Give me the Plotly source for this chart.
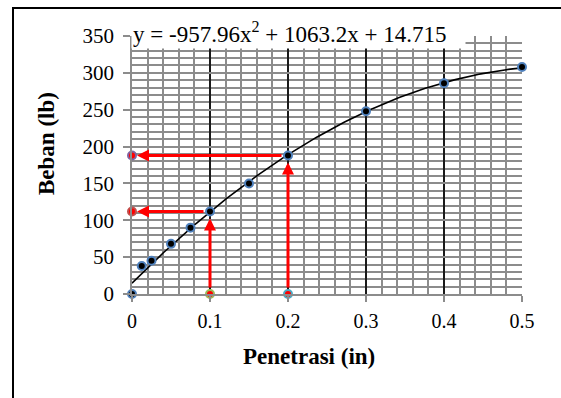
import numpy as np
import plotly.graph_objects as go

# ---- data ----
penetrasi = [0, 0.0125, 0.025, 0.05, 0.075, 0.1, 0.15, 0.2, 0.3, 0.4, 0.5]
beban = [0, 38, 45, 68, 90, 112, 150, 188, 248, 286, 308]

# trendline coefficients as shown on the chart (a, b, c for ax^2 + bx + c)
trend_coef = [-957.96, 1063.2, 14.715]
trend_label = "y = -957.96x<sup>2</sup> + 1063.2x + 14.715"

# read-off values (penetration -> load)
read_x = [0.1, 0.2]
read_y = [112, 188]

x_ticks = [0, 0.1, 0.2, 0.3, 0.4, 0.5]
y_ticks = [0, 50, 100, 150, 200, 250, 300, 350]

FONT = "Liberation Serif, Times New Roman, serif"
W, H = 561, 398
L, R, T, B = 132, 39, 36, 104
pw, ph = W - L - R, H - T - B


def px(x):
    return (x - L) / pw


def py(y):
    return (H - B - y) / ph


fig = go.Figure()

# trendline
tx = np.linspace(min(penetrasi), max(penetrasi), 200)
ty = np.polyval(trend_coef, tx)
fig.add_trace(go.Scatter(x=tx, y=ty, mode="lines",
                         line=dict(color="black", width=1.6),
                         hoverinfo="skip", cliponaxis=False))

# main data
fig.add_trace(go.Scatter(x=penetrasi, y=beban, mode="markers",
                         marker=dict(size=8, color="black",
                                     line=dict(color="#4F81BD", width=2)),
                         cliponaxis=False))

# read-off markers
fig.add_trace(go.Scatter(x=[0, 0], y=read_y, mode="markers",
                         marker=dict(size=8, color="red",
                                     line=dict(color=["#C0504D", "#8064A2"], width=2)),
                         cliponaxis=False))
fig.add_trace(go.Scatter(x=read_x, y=[0, 0], mode="markers",
                         marker=dict(size=8, color="red",
                                     line=dict(color=["#9BBB59", "#4BACC6"], width=2)),
                         cliponaxis=False))

annotations = []
for xr, yr in zip(read_x, read_y):
    # vertical arrow up to the curve
    annotations.append(dict(x=xr, y=yr, ax=xr, ay=0, xref="x", yref="y",
                            axref="x", ayref="y", text="", showarrow=True,
                            arrowhead=2, arrowwidth=3, arrowsize=0.8,
                            arrowcolor="red", standoff=7, startstandoff=5))
    # horizontal arrow to the load axis
    annotations.append(dict(x=0, y=yr, ax=xr, ay=yr, xref="x", yref="y",
                            axref="x", ayref="y", text="", showarrow=True,
                            arrowhead=2, arrowwidth=3, arrowsize=0.8,
                            arrowcolor="red", standoff=5, startstandoff=5))

# equation label
annotations.append(dict(x=px(131), y=py(33), xref="paper", yref="paper",
                        xanchor="left", yanchor="middle", showarrow=False,
                        text=trend_label + "&nbsp;&nbsp;&nbsp;",
                        font=dict(family=FONT, size=23, color="black"),
                        bgcolor="white", borderpad=1))
# axis titles
annotations.append(dict(x=px(309), y=py(356), xref="paper", yref="paper",
                        xanchor="center", yanchor="middle", showarrow=False,
                        text="<b>Penetrasi (in)</b>",
                        font=dict(family=FONT, size=23, color="black")))
annotations.append(dict(x=px(46), y=py(144), xref="paper", yref="paper",
                        xanchor="center", yanchor="middle", showarrow=False,
                        textangle=-90, text="<b>Beban (lb)</b>",
                        font=dict(family=FONT, size=23, color="black")))

frame = [
    dict(type="rect", xref="paper", yref="paper",
         x0=px(12), x1=px(561), y0=py(9), y1=py(7),
         fillcolor="black", line=dict(width=0), layer="above"),
    dict(type="rect", xref="paper", yref="paper",
         x0=px(12), x1=px(14), y0=py(398), y1=py(7),
         fillcolor="black", line=dict(width=0), layer="above"),
]

fig.update_layout(
    width=W, height=H,
    margin=dict(l=L, r=R, t=T, b=B, pad=0),
    paper_bgcolor="white", plot_bgcolor="white",
    showlegend=False,
    annotations=annotations,
    shapes=frame,
    xaxis=dict(range=[0, 0.5], tickvals=x_ticks, ticktext=[f"{v:g}" for v in x_ticks],
               showgrid=True, gridcolor="#1a1a1a", gridwidth=2,
               minor=dict(dtick=0.02, showgrid=True, gridcolor="#8c8c8c", gridwidth=1.5),
               showline=True, linecolor="#8c8c8c", linewidth=1.5,
               ticks="outside", ticklen=6, tickcolor="#8c8c8c", tickwidth=1.5,
               zeroline=False, ticklabelstandoff=2,
               tickfont=dict(family=FONT, size=20, color="black")),
    yaxis=dict(range=[0, 350], tickvals=y_ticks,
               showgrid=True, gridcolor="#8c8c8c", gridwidth=2,
               minor=dict(dtick=10, showgrid=True, gridcolor="#8c8c8c", gridwidth=2),
               showline=True, linecolor="#8c8c8c", linewidth=1.5,
               ticks="outside", ticklen=7, tickcolor="#8c8c8c", tickwidth=1.5,
               zeroline=False, ticklabelstandoff=5,
               tickfont=dict(family=FONT, size=21, color="black")),
)

fig.write_html("out.html", config={"displayModeBar": False},
               post_script="document.body.style.margin='0px';document.body.style.overflow='hidden';")
